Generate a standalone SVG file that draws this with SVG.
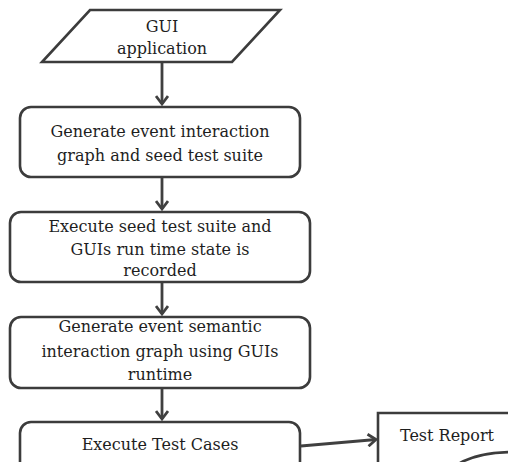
<svg xmlns="http://www.w3.org/2000/svg" width="508" height="462" viewBox="0 0 508 462">
<style>
.box{fill:#fff;stroke:#3c3c3c;stroke-width:2.6}
.t{font-family:"DejaVu Serif","Liberation Serif",serif;font-size:16px;fill:#1e1e1e;text-anchor:middle}
.c{fill:none;stroke:#404040;stroke-width:2.8}
</style>
<defs>
<marker id="ah" markerWidth="14" markerHeight="14" refX="10" refY="7" orient="auto" markerUnits="userSpaceOnUse">
<path d="M2,1 L10,7 L2,13" fill="none" stroke="#404040" stroke-width="2.8"/>
</marker>
</defs>
<rect width="508" height="462" fill="#fff"/>
<g id="connectors">
<line class="c" x1="162" y1="63" x2="162" y2="104" marker-end="url(#ah)"/>
<line class="c" x1="162" y1="178" x2="162" y2="209" marker-end="url(#ah)"/>
<line class="c" x1="162" y1="283" x2="162" y2="314" marker-end="url(#ah)"/>
<line class="c" x1="162" y1="389" x2="162" y2="419" marker-end="url(#ah)"/>
<line class="c" x1="301" y1="446" x2="376" y2="439.5" marker-end="url(#ah)"/>
</g>
<g id="gui">
<polygon class="box" points="90,10 280,10 232,62 42,62"/>
<text class="t" x="162" y="32">GUI</text>
<text class="t" x="162" y="54">application</text>
</g>
<g id="generate-eig">
<rect class="box" x="20" y="107" width="280" height="70" rx="11"/>
<text class="t" x="160" y="137">Generate event interaction</text>
<text class="t" x="160" y="161">graph and seed test suite</text>
</g>
<g id="execute-seed">
<rect class="box" x="10" y="212" width="300" height="70" rx="11"/>
<text class="t" x="160" y="232">Execute seed test suite and</text>
<text class="t" x="160" y="255">GUIs run time state is</text>
<text class="t" x="160" y="276">recorded</text>
</g>
<g id="generate-esig">
<rect class="box" x="10" y="317" width="300" height="71" rx="11"/>
<text class="t" x="160" y="332">Generate event semantic</text>
<text class="t" x="160" y="357">interaction graph using GUIs</text>
<text class="t" x="160" y="380">runtime</text>
</g>
<g id="execute-tests">
<rect class="box" x="20" y="422" width="280" height="60" rx="11"/>
<text class="t" x="160" y="450">Execute Test Cases</text>
</g>
<g id="test-report">
<path class="box" d="M378,470 L378,413 L515,413 L515,452 C490,452 470,456 455,466"/>
<text class="t" x="447" y="441">Test Report</text>
</g>
</svg>
